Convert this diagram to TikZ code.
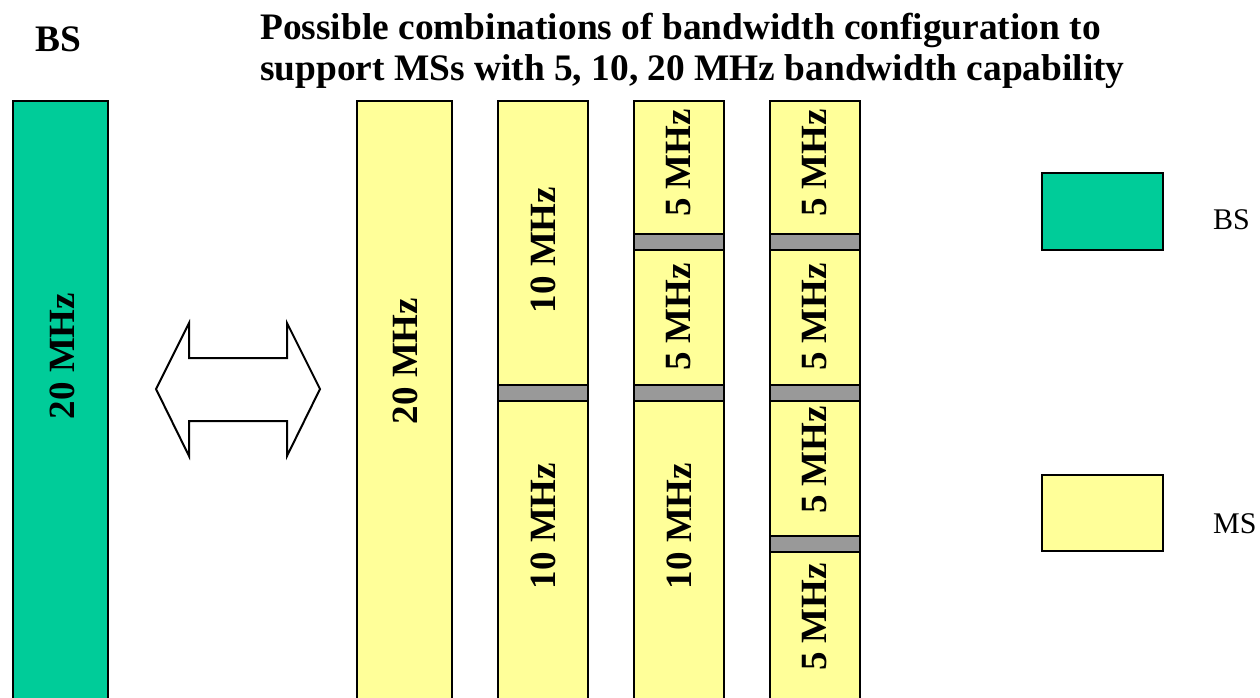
\documentclass[tikz,border=0pt]{standalone}
\usepackage{fontspec}
\setmainfont{Liberation Serif}
\definecolor{bsgreen}{HTML}{00CC99}
\definecolor{msyellow}{HTML}{FFFF99}
\definecolor{sepgray}{HTML}{999999}
\begin{document}
\begin{tikzpicture}[x=1pt,y=-1pt,
  bar/.style={draw=black,line width=2.5pt},
  bsbar/.style={bar,fill=bsgreen},
  msbar/.style={bar,fill=msyellow},
  sepbar/.style={bar,fill=sepgray},
  vlab/.style={rotate=90,font=\fontsize{37}{37}\selectfont\bfseries,inner sep=0pt},
  titlefont/.style={font=\fontsize{37.4}{40}\selectfont\bfseries,inner sep=0pt},
  legtext/.style={font=\fontsize{30}{30}\selectfont,inner sep=0pt,anchor=base west}
 ]
\useasboundingbox (0,0) rectangle (1260,697);
\clip (0,0) rectangle (1260,697);
% titles
\node[titlefont,anchor=base west] (bstitle) at (35,51) {BS};
\node[titlefont,anchor=base west] (title1) at (260,39) {Possible combinations of bandwidth configuration to};
\node[titlefont,anchor=base west] (title2) at (260,80) {support MSs with 5, 10, 20 MHz bandwidth capability};
% BS bar
\path[bsbar] (13,101) rectangle (108,720);
\node[vlab] (bs20) at (62,356) {20 MHz};
% double arrow
\draw[line width=2pt,fill=white,line join=miter]
  (156,389) -- (189,323) -- (189,358) -- (287,358) -- (287,323) -- (320,389)
  -- (287,456) -- (287,421) -- (189,421) -- (189,456) -- cycle;
% column 1
\path[msbar] (357,101) rectangle (452,720);
\node[vlab] (c1a) at (405,361) {20 MHz};
% column 2
\path[msbar] (498,101) rectangle (588,720);
\path[sepbar] (498,385) rectangle (588,401);
\node[vlab] (c2a) at (543,250) {10 MHz};
\node[vlab] (c2b) at (543,526) {10 MHz};
% column 3
\path[msbar] (634,101) rectangle (724,720);
\path[sepbar] (634,234) rectangle (724,250);
\path[sepbar] (634,385) rectangle (724,401);
\node[vlab] (c3a) at (679,163) {5 MHz};
\node[vlab] (c3b) at (679,317) {5 MHz};
\node[vlab] (c3c) at (679,526) {10 MHz};
% column 4
\path[msbar] (770,101) rectangle (860,720);
\path[sepbar] (770,234) rectangle (860,250);
\path[sepbar] (770,385) rectangle (860,401);
\path[sepbar] (770,536) rectangle (860,552);
\node[vlab] (c4a) at (815,163) {5 MHz};
\node[vlab] (c4b) at (815,317) {5 MHz};
\node[vlab] (c4c) at (815,460) {5 MHz};
\node[vlab] (c4d) at (815,617) {5 MHz};
% legend
\path[bsbar] (1042,173) rectangle (1163,250);
\node[legtext] (legbs) at (1213,229) {BS};
\path[msbar] (1042,475) rectangle (1163,551);
\node[legtext] (legms) at (1213,533) {MS};
\end{tikzpicture}
\end{document}
